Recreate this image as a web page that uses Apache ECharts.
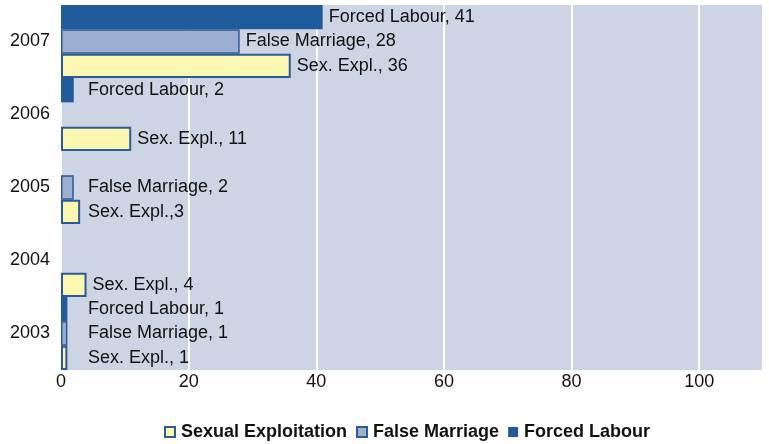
<!DOCTYPE html>
<html>
<head>
<meta charset="utf-8">
<script src="https://cdn.jsdelivr.net/npm/echarts@6/dist/echarts.min.js"></script>
<style>
html,body{margin:0;padding:0;background:#fff;}
#chart{width:769px;height:444px;}
</style>
</head>
<body>
<div id="chart"></div>
<script>
const years = ['2003', '2004', '2005', '2006', '2007'];
const xTicks = [0, 20, 40, 60, 80, 100];
const seriesNames = ['Sexual Exploitation', 'False Marriage', 'Forced Labour'];

const sexExpl = [1, 4, 3, 11, 36];
const falseMarriage = [1, null, 2, null, 28];
const forcedLabour = [1, null, null, 2, 41];

const sexExplLabels = ['Sex. Expl., 1', 'Sex. Expl., 4', 'Sex. Expl.,3', 'Sex. Expl., 11', 'Sex. Expl., 36'];
const falseMarriageLabels = ['False Marriage, 1', '', 'False Marriage, 2', '', 'False Marriage, 28'];
const forcedLabourLabels = ['Forced Labour, 1', '', '', 'Forced Labour, 2', 'Forced Labour, 41'];

const FONT = '"Liberation Sans", Arial, sans-serif';
const BORDER = '#2b5b96';

const chart = echarts.init(document.getElementById('chart'), null, {renderer: 'canvas'});

function makeSeries(name, values, labels, color, borderW, distances) {
  return {
    name: name,
    type: 'bar',
    data: values.map((v, i) => ({
      value: v,
      label: {distance: distances ? distances[i] : 6}
    })),
    barGap: '0%',
    barCategoryGap: '0%',
    itemStyle: {color: color, borderColor: BORDER, borderWidth: borderW},
    label: {
      show: true,
      position: 'right',
      color: '#111',
      fontFamily: FONT,
      fontSize: 18,
      formatter: p => labels[p.dataIndex]
    },
    emphasis: {disabled: true},
    animation: false
  };
}

function buildOption(dist) {
  return {
    animation: false,
    grid: {
      left: 61, right: 6, top: 5, bottom: 74,
      show: true, backgroundColor: '#cdd4e4', borderWidth: 0
    },
    legend: {
      data: seriesNames,
      left: 159, top: 418,
      itemWidth: 10, itemHeight: 10, itemGap: 9,
      icon: 'rect',
      textStyle: {fontFamily: FONT, fontSize: 18, fontWeight: 'bold', color: '#111', padding: [0, 0, 0, 1]},
      selectedMode: false
    },
    xAxis: {
      type: 'value',
      min: 0, max: 110, interval: 20,
      axisLine: {show: false},
      axisTick: {show: false},
      splitLine: {show: true, lineStyle: {color: '#ffffff', width: 2}},
      axisLabel: {
        fontFamily: FONT, fontSize: 18, color: '#111', margin: 3,
        formatter: v => xTicks.indexOf(v) >= 0 ? String(v) : ''
      }
    },
    yAxis: {
      type: 'category',
      data: years,
      axisLine: {show: false},
      axisTick: {show: false},
      splitLine: {show: false},
      axisLabel: {fontFamily: FONT, fontSize: 18, color: '#111', margin: 11}
    },
    series: [
      makeSeries('Forced Labour', forcedLabour, forcedLabourLabels, '#1f5b9d', 0, dist && dist[2]),
      makeSeries('False Marriage', falseMarriage, falseMarriageLabels, '#9cafd3', 1.5, dist && dist[1]),
      makeSeries('Sexual Exploitation', sexExpl, sexExplLabels, '#fbf7b1', 2, dist && dist[0])
    ]
  };
}

chart.setOption(buildOption(null));

// labels start no further left than a common minimum x, otherwise just right of the bar
const minLabelX = chart.convertToPixel({xAxisIndex: 0}, 0) + 27;
function distances(values) {
  return values.map(v => {
    if (v == null) return 6;
    const end = chart.convertToPixel({xAxisIndex: 0}, v);
    return Math.max(6, minLabelX - end);
  });
}
chart.setOption(buildOption([distances(sexExpl), distances(falseMarriage), distances(forcedLabour)]), true);
</script>
</body>
</html>
